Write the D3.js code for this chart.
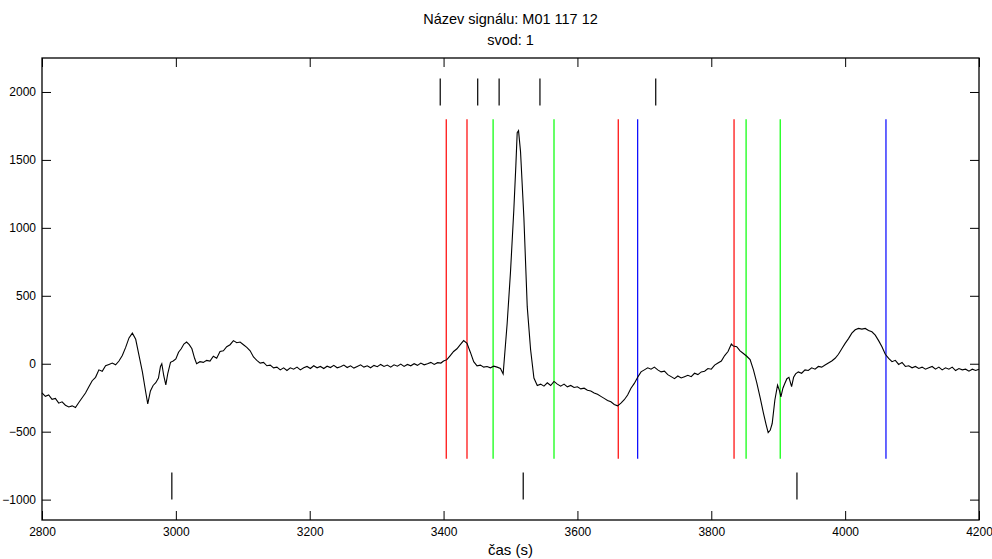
<!DOCTYPE html>
<html>
<head>
<meta charset="utf-8">
<title>Název signálu</title>
<script src="https://cdn.jsdelivr.net/npm/d3@7"></script>
<style>
  body { margin: 0; background: #fff; }
  #board { width: 992px; height: 559px; }
  text { font-family: "Liberation Sans", Arial, sans-serif; fill: #000; }
</style>
</head>
<body>
<div id="board"></div>
<script>
// signal samples: time (s) and amplitude
var times = [2800,2805,2810,2815,2820,2825,2830,2835,2840,2845,2850,2855,2860,2865,2870,2875,2880,2885,2890,2895,
  2900,2905,2910,2915,2920,2925,2930,2935,2940,2945,2950,2955,2958,2962,2966,2970,2974,2977,2979,2982,
  2985,2988,2992,2996,3000,3004,3008,3012,3016,3020,3024,3028,3031,3036,3041,3046,3051,3056,3061,3066,
  3071,3076,3081,3086,3091,3096,3101,3106,3111,3116,3121,3126,3131,3136,3141,3146,3151,3156,3161,3166,
  3171,3176,3181,3186,3191,3196,3201,3206,3211,3216,3221,3226,3231,3236,3241,3246,3251,3256,3261,3266,
  3271,3276,3281,3286,3291,3296,3301,3306,3311,3316,3321,3326,3331,3336,3341,3346,3351,3356,3361,3366,
  3371,3376,3381,3386,3391,3396,3400,3405,3410,3415,3420,3425,3430,3435,3440,3445,3450,3455,3460,3465,
  3470,3475,3480,3485,3489,3495,3500,3505,3508,3510,3512,3515,3520,3525,3530,3535,3540,3545,3550,3555,
  3560,3565,3570,3575,3580,3585,3590,3595,3600,3605,3610,3615,3620,3625,3630,3635,3640,3645,3650,3655,
  3660,3665,3670,3675,3680,3685,3690,3695,3700,3705,3710,3715,3720,3725,3730,3735,3740,3745,3750,3755,
  3760,3765,3770,3775,3780,3785,3790,3795,3800,3805,3810,3815,3820,3825,3830,3833,3838,3843,3848,3853,
  3858,3863,3868,3873,3878,3882,3885,3888,3891,3895,3899,3902,3904,3907,3910,3913,3916,3920,3923,3926,
  3930,3935,3940,3945,3950,3955,3960,3965,3970,3975,3980,3985,3990,3995,4000,4005,4010,4015,4020,4025,
  4030,4035,4040,4045,4050,4055,4060,4065,4070,4075,4080,4085,4090,4095,4100,4105,4110,4115,4120,4125,
  4130,4135,4140,4145,4150,4155,4160,4165,4170,4175,4180,4185,4190,4195,4200];
var values = [-215,-240,-230,-262,-255,-290,-280,-305,-318,-310,-322,-285,-250,-215,-170,-125,-100,-45,-55,-15,
  -5,5,-8,20,60,120,190,225,180,60,-60,-210,-295,-200,-160,-140,-105,-20,0,-90,
  -155,-70,10,20,35,85,110,145,160,140,110,40,0,15,10,25,20,55,40,90,
  95,125,140,170,155,160,140,120,95,50,25,5,10,-15,-10,-30,-25,-45,-30,-50,
  -30,-40,-25,-45,-30,-20,-35,-15,-30,-20,-35,-18,-28,-12,-30,-22,-10,-28,-15,-32,
  -20,-8,-25,-15,-30,-12,-22,-5,-20,-10,-25,-8,-18,-3,-20,-5,-15,0,-12,5,
  -8,0,10,-5,8,5,20,30,60,90,110,140,170,150,85,15,-15,-10,-25,-20,
  -30,-18,-25,-35,-75,296,676,1135,1458,1700,1715,1560,1074,420,105,-105,-160,-150,-165,-140,
  -160,-130,-150,-165,-150,-170,-160,-175,-170,-185,-180,-195,-200,-215,-225,-240,-255,-270,-280,-300,
  -310,-290,-265,-230,-180,-145,-100,-60,-45,-30,-40,-25,-45,-60,-55,-80,-95,-110,-90,-105,
  -95,-85,-95,-70,-80,-60,-55,-35,-40,-10,5,20,60,90,145,130,125,95,75,55,
  30,-45,-140,-250,-365,-450,-507,-490,-440,-267,-157,-200,-243,-180,-144,-110,-100,-169,-100,-75,
  -60,-70,-45,-50,-30,-40,-20,-25,-10,5,20,40,70,110,150,185,225,250,260,255,
  260,245,235,210,170,125,70,40,15,25,-5,10,-20,-15,-30,-20,-35,-25,-40,-30,
  -20,-40,-25,-45,-30,-40,-25,-50,-35,-45,-40,-55,-40,-50,-40];

// annotation markers (time positions)
var redLines = [3404, 3435, 3661, 3834];
var greenLines = [3474, 3565, 3852, 3903];
var blueLines = [3690, 4061];
var topMarks = [3395, 3451, 3483, 3544, 3717];
var bottomMarks = [2994, 3519, 3928];

var xTicks = [2800, 3000, 3200, 3400, 3600, 3800, 4000, 4200];
var yTicks = [-1000, -500, 0, 500, 1000, 1500, 2000];

var W = 992, H = 559;
var L = 42, R = 979, T = 58, B = 520;

var svg = d3.select('#board').append('svg')
  .attr('width', W).attr('height', H);

var x = d3.scaleLinear().domain([2800, 4200]).range([L, R]);
var y = d3.scaleLinear().domain([-1150, 2250]).range([B, T]);

// title
svg.append('text').attr('x', (L + R) / 2).attr('y', 24)
  .attr('text-anchor', 'middle').style('font-size', '14.5px')
  .text('Název signálu: M01 117 12');
svg.append('text').attr('x', (L + R) / 2).attr('y', 45)
  .attr('text-anchor', 'middle').style('font-size', '14.5px')
  .text('svod: 1');

var g = svg.append('g');

// vertical marker lines
function vlines(data, y0, y1, color){
  g.selectAll(null)
    .data(data)
    .enter().append('line')
    .attr('x1', function(d){ return x(d); })
    .attr('x2', function(d){ return x(d); })
    .attr('y1', y(y0))
    .attr('y2', y(y1))
    .style('stroke', color)
    .style('stroke-width', 1.2);
}
vlines(redLines, -700, 1800, '#ff0000');
vlines(greenLines, -700, 1800, '#00ff00');
vlines(blueLines, -700, 1800, '#0000ff');
vlines(topMarks, 1900, 2100, '#000');
vlines(bottomMarks, -1000, -800, '#000');

// signal
var pts = times.map(function(t, i){ return [t, values[i]]; });
var line = d3.line()
  .x(function(d){ return x(d[0]); })
  .y(function(d){ return y(d[1]); });
g.append('path')
  .datum(pts)
  .attr('d', line)
  .style('fill', 'none')
  .style('stroke', '#000')
  .style('stroke-width', 1.1);

// axes with inward ticks
var ax = svg.append('g').attr('transform', 'translate(0,' + B + ')')
  .call(d3.axisBottom(x).tickValues(xTicks).tickSize(-9).tickPadding(7).tickFormat(d3.format('d')));
var axT = svg.append('g').attr('transform', 'translate(0,' + T + ')')
  .call(d3.axisTop(x).tickValues(xTicks).tickSize(-9).tickFormat(''));
var ay = svg.append('g').attr('transform', 'translate(' + L + ',0)')
  .call(d3.axisLeft(y).tickValues(yTicks).tickSize(-9).tickPadding(6).tickFormat(d3.format('d')));
var ayR = svg.append('g').attr('transform', 'translate(' + R + ',0)')
  .call(d3.axisRight(y).tickValues(yTicks).tickSize(-9).tickFormat(''));

[ax, axT, ay, ayR].forEach(function(a){
  a.select('.domain').remove();
  a.selectAll('text').style('font-size', '12px')
    .style('font-family', '"Liberation Sans", Arial, sans-serif');
  a.selectAll('line').style('stroke', '#000');
});

svg.append('rect')
  .attr('x', L).attr('y', T)
  .attr('width', R - L).attr('height', B - T)
  .style('fill', 'none').style('stroke', '#000').style('stroke-width', 1.3);

// x label
svg.append('text').attr('x', (L + R) / 2).attr('y', 555)
  .attr('text-anchor', 'middle').style('font-size', '15px')
  .text('čas (s)');
</script>
</body>
</html>
